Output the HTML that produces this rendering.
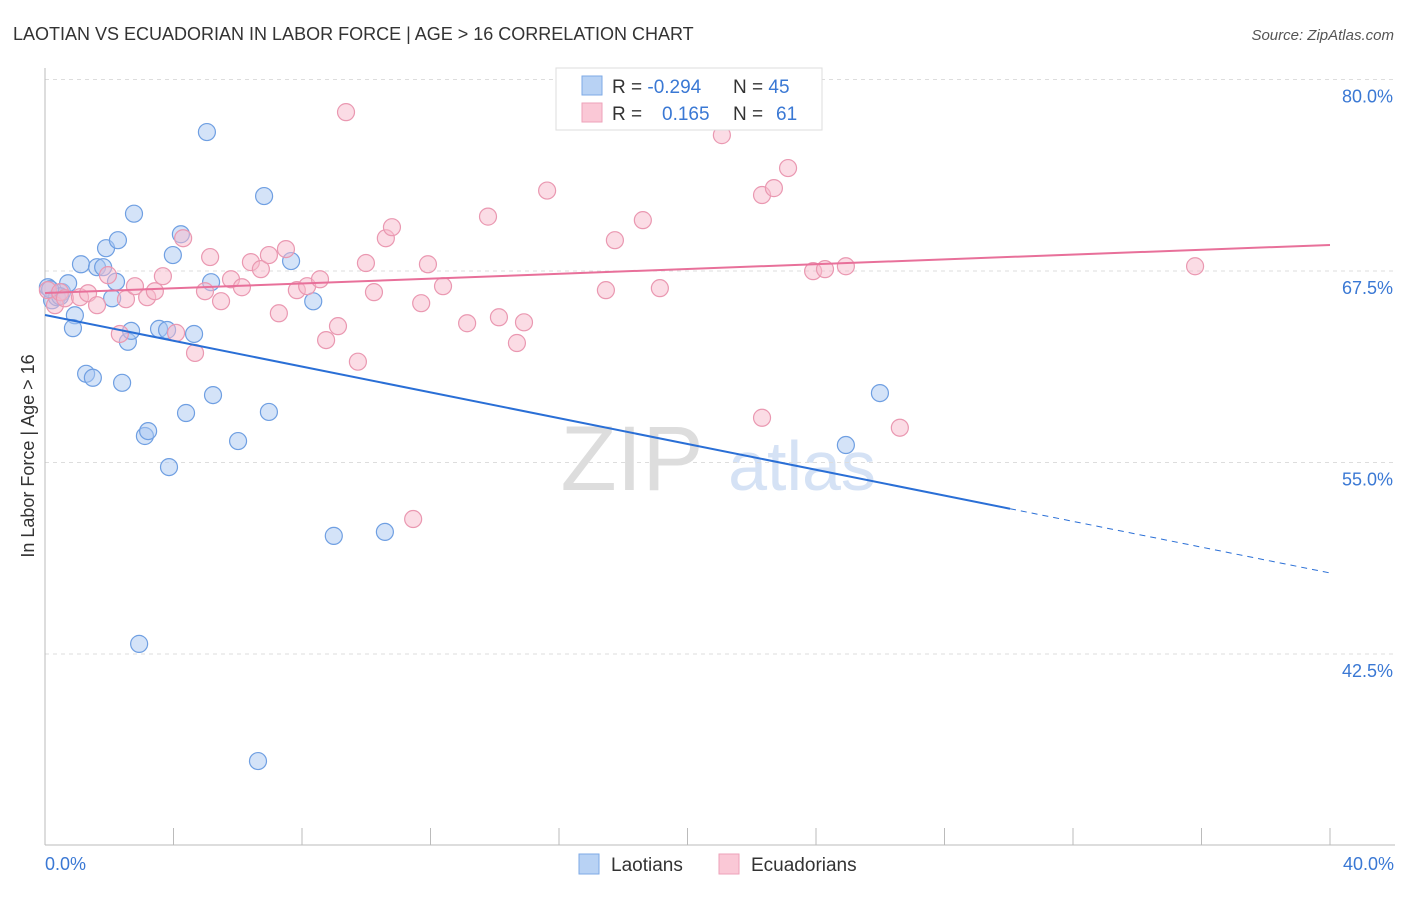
<!DOCTYPE html>
<html><head><meta charset="utf-8"><style>
body{margin:0;background:#fff;font-family:"Liberation Sans",sans-serif}
svg text{font-family:"Liberation Sans",sans-serif}
</style></head><body>
<svg id="chart" width="1406" height="892" xmlns="http://www.w3.org/2000/svg">
<text x="13" y="40" font-size="18" fill="#333">LAOTIAN VS ECUADORIAN IN LABOR FORCE | AGE &gt; 16 CORRELATION CHART</text>
<text x="1394" y="40" font-size="15" fill="#555" font-style="italic" text-anchor="end">Source: ZipAtlas.com</text>
<g>
<text x="632" y="490" font-size="92" fill="#ddd" font-family="Liberation Serif" text-anchor="middle">ZIP</text>
<text x="802" y="490" font-size="70" fill="#d5e2f5" text-anchor="middle">atlas</text></g>
<g id="grid"></g><g id="axes"></g><g id="marks"></g>
<text transform="translate(34,456) rotate(-90)" font-size="18" fill="#333" text-anchor="middle">In Labor Force | Age &gt; 16</text>
<text x="45" y="870" font-size="18" fill="#3a78d4">0.0%</text>
<text x="1394" y="870" font-size="18" fill="#3a78d4" text-anchor="end">40.0%</text>
<g>
<rect x="556" y="68" width="266" height="62" fill="#fff" stroke="#ddd"/>
<rect x="582" y="76" width="20" height="19" fill="#b8d2f4" stroke="#7eaae6"/>
<rect x="582" y="103" width="20" height="19" fill="#fac8d6" stroke="#eea2b9"/>
<text x="612" y="93" font-size="19" fill="#333">R = <tspan fill="#3a78d4">-0.294</tspan></text>
<text x="733" y="93" font-size="19" fill="#333">N = <tspan fill="#3a78d4">45</tspan></text>
<text x="612" y="120" font-size="19" fill="#333">R = </text><text x="662" y="120" font-size="19" fill="#3a78d4">0.165</text>
<text x="733" y="120" font-size="19" fill="#333">N = </text><text x="776" y="120" font-size="19" fill="#3a78d4">61</text>
</g>
<g>
<rect x="579" y="854" width="20" height="20" fill="#b8d2f4" stroke="#7eaae6"/>
<text x="611" y="871" font-size="19" fill="#333">Laotians</text>
<rect x="719" y="854" width="20" height="20" fill="#fac8d6" stroke="#eea2b9"/>
<text x="751" y="871" font-size="19" fill="#333">Ecuadorians</text></g>
</svg>
<script>
const yTicks=[80,67.5,55,42.5];
const yTickLabels=["80.0%","67.5%","55.0%","42.5%"];
const xTicks=[0,4,8,12,16,20,24,28,32,36,40];
const laoX=[0.09,0.22,0.37,0.53,0.72,0.93,0.87,1.12,1.28,1.49,1.62,1.81,1.90,2.09,2.21,2.27,2.40,2.58,2.68,2.77,3.11,3.21,3.55,3.80,3.86,3.98,4.23,4.39,4.64,5.04,5.17,5.23,6.01,6.63,6.82,6.97,7.66,8.35,8.99,10.58,2.93,24.93,25.99,0.47,0.16];
const laoY=[66.44,65.59,65.79,66.12,66.70,64.61,63.77,67.94,60.79,60.53,67.75,67.75,68.99,65.72,66.80,69.51,60.20,62.88,63.59,71.24,56.73,57.05,63.72,63.65,54.70,68.54,69.90,58.23,63.39,76.57,66.77,59.40,56.40,35.51,72.39,58.30,68.15,65.52,50.21,50.47,43.16,56.14,59.53,65.85,66.31];
const ecuX=[0.09,0.31,0.47,0.62,1.09,1.34,1.62,1.96,2.33,2.52,2.80,3.18,3.42,3.67,4.08,4.30,4.67,4.98,5.14,5.48,5.79,6.13,6.41,6.72,6.97,7.28,7.50,7.84,8.16,8.56,8.75,9.12,9.37,9.74,9.99,10.24,10.61,10.80,11.71,11.92,12.39,13.14,13.79,14.13,14.69,14.91,15.63,17.46,17.74,18.61,19.14,21.07,22.32,22.69,23.13,22.32,23.91,24.28,24.93,26.61,35.80,11.46];
const ecuY=[66.25,65.27,66.12,65.72,65.79,66.05,65.27,67.23,63.39,65.66,66.51,65.79,66.18,67.16,63.46,69.64,62.15,66.18,68.41,65.53,66.96,66.44,68.08,67.62,68.54,64.74,68.93,66.25,66.51,66.96,62.99,63.90,77.87,61.58,68.02,66.12,69.64,70.36,65.40,67.94,66.51,64.09,71.05,64.48,62.80,64.15,72.75,66.25,69.51,70.82,66.38,76.37,72.46,72.91,74.22,57.92,67.49,67.62,67.81,57.27,67.81,51.31];
const laoTrend=[64.63,47.79];
const ecuTrend=[66.06,69.2];
const NS="http://www.w3.org/2000/svg";
const X=v=>45+v*32.125, Y=v=>79.5+(80-v)*15.32;
function mk(t,a,p){const e=document.createElementNS(NS,t);for(const k in a)e.setAttribute(k,a[k]);document.getElementById(p).appendChild(e);return e;}
yTicks.forEach((v,i)=>{
 const l=mk('line',{x1:45,x2:1395,y1:Y(v),y2:Y(v),stroke:'#ddd','stroke-dasharray':'4,4'},'grid');
 
 
 const t=mk('text',{x:1393,y:Y(v)+23,'font-size':18,fill:'#3a78d4','text-anchor':'end'},'grid');
 t.textContent=yTickLabels[i];
 
 
});
const ax=mk('line',{x1:45,x2:1395,y1:845,y2:845,stroke:'#bbb'},'axes');


const ay=mk('line',{x1:45,x2:45,y1:68,y2:845,stroke:'#bbb'},'axes');


xTicks.forEach(v=>{const t=mk('line',{x1:X(v),x2:X(v),y1:828,y2:845,stroke:'#bbb'},'axes');
 
 });
function pts(xs,ys,fill,stroke,name){xs.forEach((x,i)=>{const c=mk('circle',{cx:X(x),cy:Y(ys[i]),r:8.5,fill:fill,'fill-opacity':0.5,stroke:stroke,'stroke-width':1.2},'marks');
 
 });}
pts(laoX,laoY,'#a9c8f2','#6f9fe2','laotian-point');
pts(ecuX,ecuY,'#f7b9cb','#ea98b1','ecuadorian-point');
const xs=30.04, ym=laoTrend[0]+(laoTrend[1]-laoTrend[0])*xs/40;
const b1=mk('line',{x1:X(0),y1:Y(laoTrend[0]),x2:X(xs),y2:Y(ym),stroke:'#2a6fd6','stroke-width':2},'marks');


const b2=mk('line',{x1:X(xs),y1:Y(ym),x2:X(40),y2:Y(laoTrend[1]),stroke:'#2a6fd6','stroke-width':1,'stroke-dasharray':'6,5'},'marks');


const p1=mk('line',{x1:X(0),y1:Y(ecuTrend[0]),x2:X(40),y2:Y(ecuTrend[1]),stroke:'#e8709a','stroke-width':2},'marks');


</script>
</body></html>
